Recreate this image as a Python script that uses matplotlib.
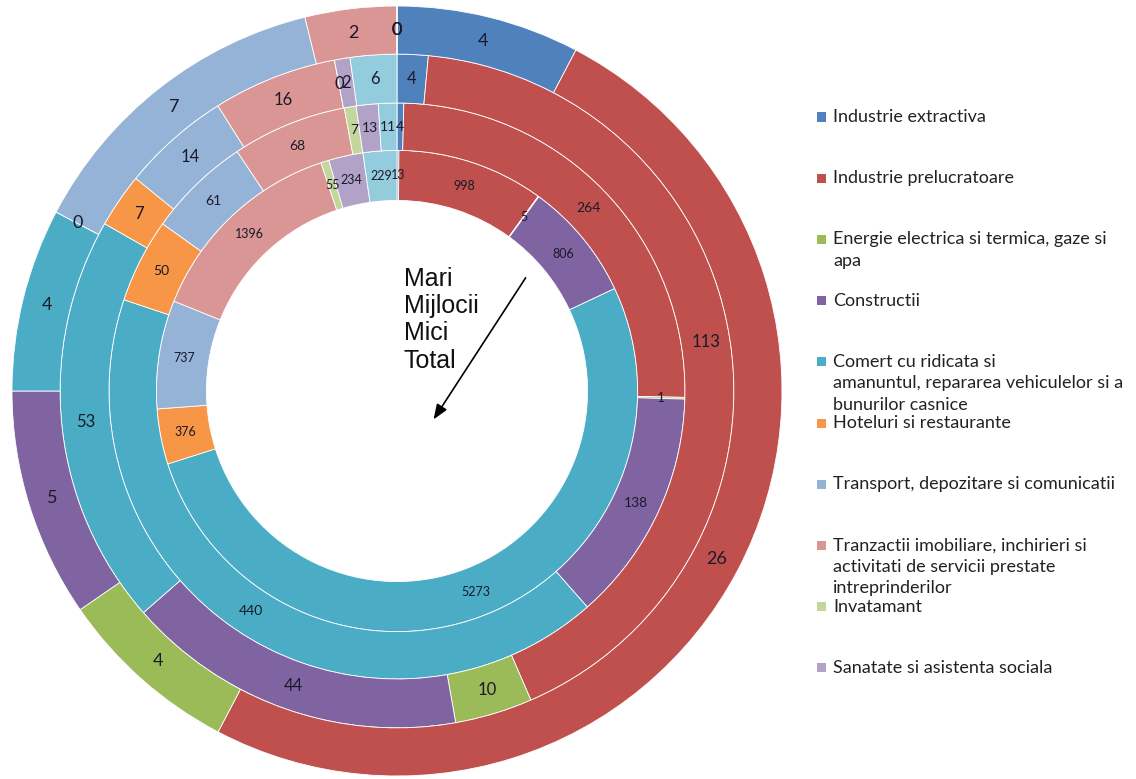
import matplotlib
matplotlib.use("Agg")
import matplotlib.pyplot as plt
import numpy as np
from matplotlib.patches import Rectangle

categories = [
    'Industrie extractiva',
    'Industrie prelucratoare',
    'Energie electrica si termica, gaze si\napa',
    'Constructii',
    'Comert cu ridicata si\namanuntul, repararea vehiculelor si a\nbunurilor casnice',
    'Hoteluri si restaurante',
    'Transport, depozitare si comunicatii',
    'Tranzactii imobiliare, inchirieri si\nactivitati de servicii prestate\nintreprinderilor',
    'Invatamant',
    'Sanatate si asistenta sociala',
    'Alte activitati de servicii',
]
colors = ['#4F81BD', '#C0504D', '#9BBB59', '#8064A2', '#4BACC6', '#F79646',
          '#95B3D7', '#D99694', '#C3D69B', '#B3A2C7', '#93CDDD']

# rings from inside to outside
total = [13, 998, 5, 806, 5273, 376, 737, 1396, 55, 234, 229]
mici = [4, 264, 1, 138, 440, 50, 61, 68, 7, 13, 11]
mijlocii = [4, 113, 10, 44, 53, 7, 14, 16, 0, 2, 6]
mari = [4, 26, 4, 5, 4, 0, 7, 2, 0, 0, 0]
series = [total, mici, mijlocii, mari]
series_names = ['Mari', 'Mijlocii', 'Mici', 'Total']

W, H = 1136, 779
fig = plt.figure(figsize=(W / 100, H / 100), dpi=100)

# pie centre and outer radius in pixels
cx, cy, R = 397, 391, 385
ax = fig.add_axes([(cx - R) / W, (H - cy - R) / H, 2 * R / W, 2 * R / H])

outer_r = [0.625, 0.748, 0.875, 1.0]
inner_r = [0.495, 0.625, 0.748, 0.875]
label_size = [9, 10, 12, 13]

for vals, ro, ri, fs in zip(series, outer_r, inner_r, label_size):
    wedges, _ = ax.pie(vals, radius=ro, colors=colors, startangle=90,
                       counterclock=False,
                       wedgeprops=dict(width=ro - ri, edgecolor='white', linewidth=0.6))
    rm = (ro + ri) / 2
    for w, v in zip(wedges, vals):
        ang = np.deg2rad((w.theta1 + w.theta2) / 2)
        ax.text(rm * np.cos(ang), rm * np.sin(ang), str(v), ha='center', va='center',
                fontsize=fs, color='#1a1a2a', family='Lato')

ax.set_xlim(-1, 1)
ax.set_ylim(-1, 1)
ax.set_aspect('equal')
ax.axis('off')

# series names in the hole, with arrow
ax.text(0.018, 0.322, '\n'.join(series_names), ha='left', va='top', fontsize=18,
        family='Liberation Sans', color='#111111', linespacing=1.17)
ax.annotate('', xy=(0.091, -0.08), xytext=(0.338, 0.30),
            arrowprops=dict(arrowstyle='-|>,head_length=0.9,head_width=0.35',
                            color='black', lw=1.2))

# legend (first ten categories)
for i in range(10):
    y = 117 + i * 61.2
    fig.add_artist(Rectangle(((817) / W, (H - y - 4.5) / H), 9 / W, 9 / H,
                             transform=fig.transFigure, facecolor=colors[i],
                             edgecolor='none'))
    fig.text(833 / W, (H - y + 8) / H, categories[i], ha='left', va='top',
             fontsize=13, family='Lato', color='#222222', linespacing=1.42)

fig.savefig('out.png', dpi=100)
